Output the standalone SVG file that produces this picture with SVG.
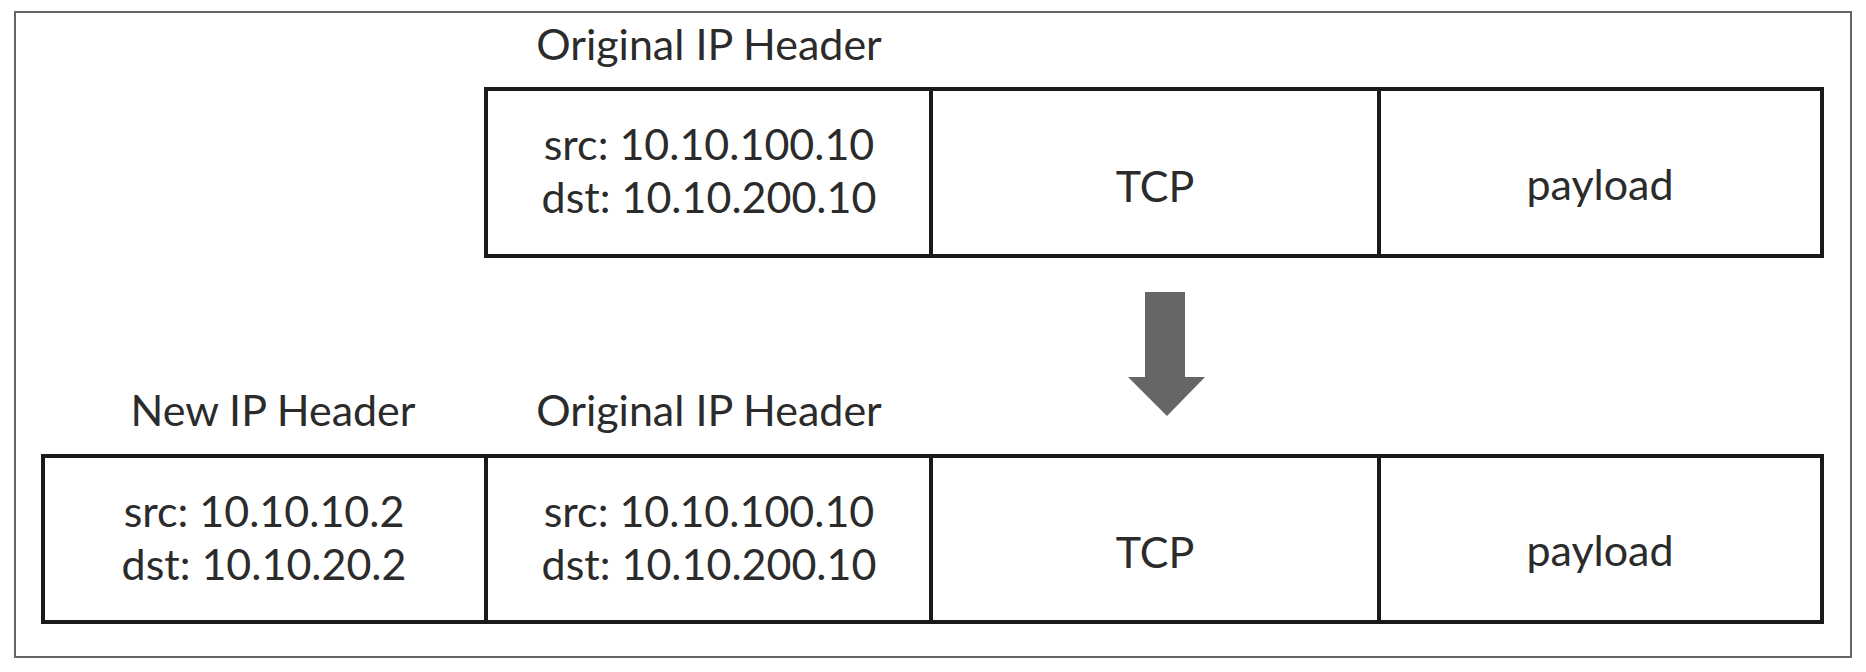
<svg xmlns="http://www.w3.org/2000/svg" width="1866" height="672" viewBox="0 0 1866 672">
<style>
.frame{fill:#fff;stroke:#666;stroke-width:2}
.cell{fill:#fff;stroke:#1a1a1a;stroke-width:4}
text{font-family:Lato,"Open Sans","Liberation Sans",sans-serif;font-size:43px;fill:#2b2b2b;text-anchor:middle}
.arrow{fill:#666}
</style>
<rect x="0" y="0" width="1866" height="672" fill="#fff"/>
<rect class="frame" x="15" y="12" width="1836" height="645"/>
<g id="top-orig-ip">
<text x="709" y="60">Original IP Header</text>
<rect class="cell" x="486" y="89" width="445" height="167"/>
<text x="709" y="160">src: 10.10.100.10</text>
<text x="709" y="213">dst: 10.10.200.10</text>
</g>
<g id="top-tcp">
<rect class="cell" x="931" y="89" width="448" height="167"/>
<text x="1155" y="202">TCP</text>
</g>
<g id="top-payload">
<rect class="cell" x="1379" y="89" width="443" height="167"/>
<text x="1600" y="200">payload</text>
</g>
<g id="bot-new-ip">
<text x="273" y="426">New IP Header</text>
<rect class="cell" x="43" y="456" width="443" height="166"/>
<text x="264" y="527">src: 10.10.10.2</text>
<text x="264" y="580">dst: 10.10.20.2</text>
</g>
<g id="bot-orig-ip">
<text x="709" y="426">Original IP Header</text>
<rect class="cell" x="486" y="456" width="445" height="166"/>
<text x="709" y="527">src: 10.10.100.10</text>
<text x="709" y="580">dst: 10.10.200.10</text>
</g>
<g id="bot-tcp">
<rect class="cell" x="931" y="456" width="448" height="166"/>
<text x="1155" y="568">TCP</text>
</g>
<g id="bot-payload">
<rect class="cell" x="1379" y="456" width="443" height="166"/>
<text x="1600" y="566">payload</text>
</g>
<g id="connectors">
<polygon class="arrow" points="1145,292 1185,292 1185,377 1205,377 1167,416 1128,377 1145,377"/>
</g>
</svg>
